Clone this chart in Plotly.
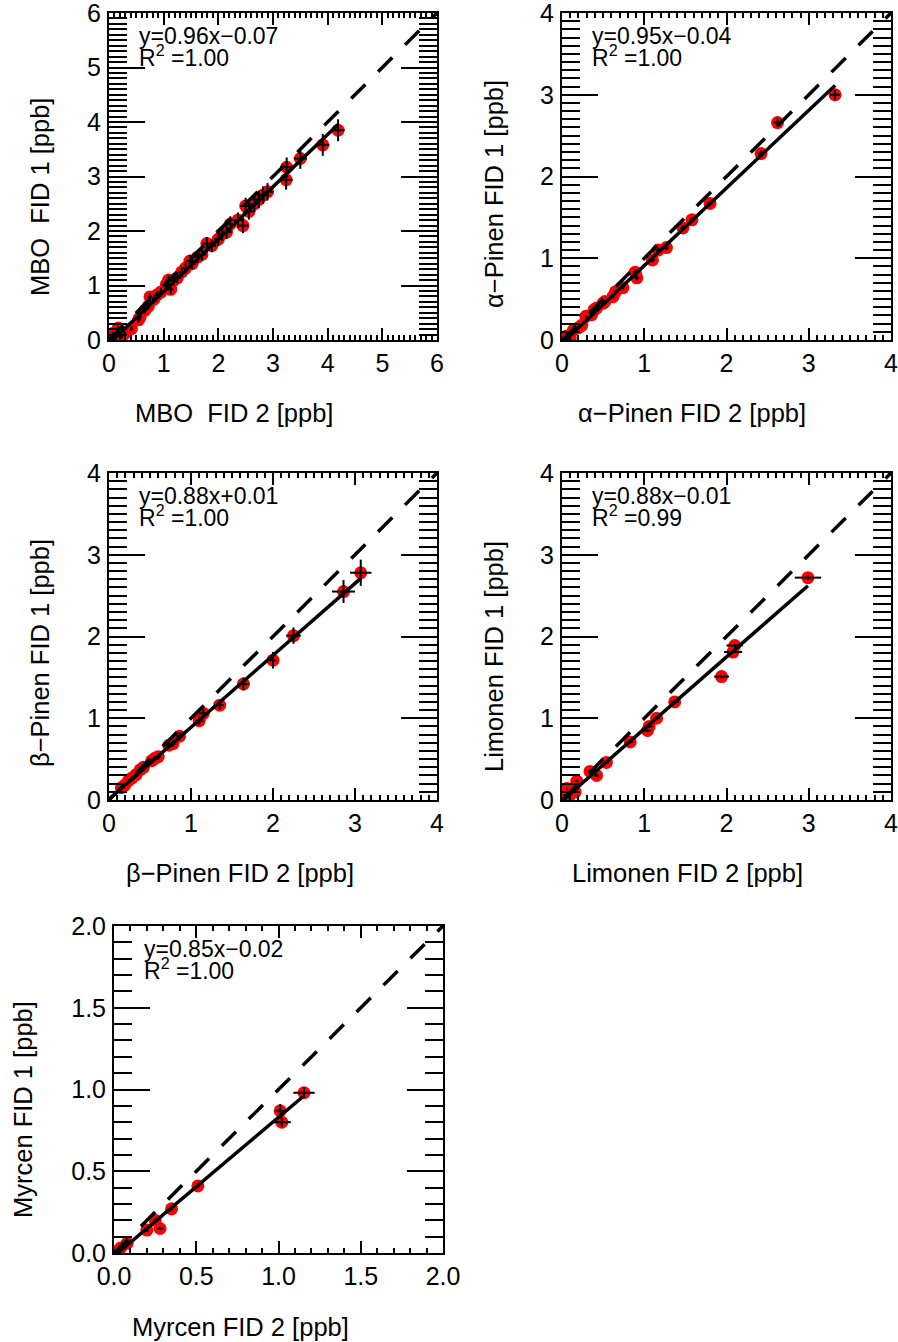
import plotly.graph_objects as go

W, H = 898, 1342

# ---------------- data ----------------
mbo_x = [0.03, 0.07, 0.17, 0.23, 0.29, 0.41, 0.54, 0.57, 0.66, 0.72, 0.75, 0.82, 0.88, 0.95, 1.05,
         1.09, 1.13, 1.18, 1.25, 1.33, 1.40, 1.48, 1.52, 1.62, 1.70, 1.79, 1.88, 2.00, 2.07, 2.15,
         2.22, 2.36, 2.45, 2.50, 2.56, 2.66, 2.74, 2.82, 2.90, 3.24, 3.25, 3.50, 3.91, 4.19]
mbo_y = [0.02, 0.12, 0.22, 0.06, 0.12, 0.21, 0.37, 0.42, 0.55, 0.62, 0.79, 0.75, 0.83, 0.88, 1.02,
         1.10, 0.93, 1.09, 1.14, 1.25, 1.32, 1.45, 1.40, 1.52, 1.57, 1.77, 1.73, 1.85, 1.95, 1.98,
         2.13, 2.20, 2.10, 2.46, 2.36, 2.50, 2.58, 2.66, 2.72, 2.94, 3.17, 3.33, 3.58, 3.85]
mbo_ex = [0.02, 0.02, 0.02, 0.02, 0.02, 0.03, 0.03, 0.03, 0.04, 0.04, 0.04, 0.04, 0.05, 0.05, 0.05,
          0.05, 0.05, 0.06, 0.06, 0.06, 0.06, 0.07, 0.07, 0.07, 0.08, 0.08, 0.08, 0.08, 0.09, 0.09,
          0.09, 0.10, 0.10, 0.10, 0.10, 0.10, 0.11, 0.11, 0.11, 0.12, 0.12, 0.12, 0.12, 0.12]
mbo_ey = [0.02, 0.03, 0.03, 0.03, 0.03, 0.04, 0.05, 0.05, 0.06, 0.06, 0.07, 0.07, 0.07, 0.08, 0.08,
          0.09, 0.09, 0.09, 0.10, 0.10, 0.10, 0.11, 0.11, 0.11, 0.12, 0.12, 0.12, 0.13, 0.13, 0.13,
          0.14, 0.14, 0.14, 0.15, 0.15, 0.15, 0.16, 0.16, 0.16, 0.18, 0.18, 0.19, 0.20, 0.20]

apin_x = [0.06, 0.10, 0.14, 0.20, 0.24, 0.29, 0.36, 0.39, 0.42, 0.50, 0.52, 0.62, 0.65, 0.74,
          0.89, 0.91, 1.10, 1.17, 1.27, 1.47, 1.58, 1.80, 2.42, 2.62, 3.32]
apin_y = [0.05, 0.02, 0.12, 0.15, 0.18, 0.29, 0.31, 0.37, 0.39, 0.45, 0.47, 0.53, 0.59, 0.64,
          0.83, 0.76, 0.98, 1.10, 1.13, 1.37, 1.47, 1.67, 2.28, 2.66, 3.00]
apin_ex = [0.01, 0.01, 0.01, 0.01, 0.01, 0.01, 0.02, 0.02, 0.02, 0.02, 0.02, 0.02, 0.02, 0.02,
           0.03, 0.03, 0.03, 0.03, 0.03, 0.03, 0.03, 0.03, 0.04, 0.05, 0.06]
apin_ey = [0.01, 0.01, 0.01, 0.01, 0.01, 0.01, 0.02, 0.02, 0.02, 0.02, 0.02, 0.02, 0.02, 0.02,
           0.03, 0.03, 0.03, 0.03, 0.03, 0.03, 0.03, 0.03, 0.04, 0.05, 0.06]

bpin_x = [0.15, 0.19, 0.24, 0.28, 0.33, 0.38, 0.42, 0.52, 0.56, 0.60, 0.73, 0.78, 0.86,
          1.10, 1.15, 1.35, 1.64, 2.00, 2.25, 2.86, 3.07]
bpin_y = [0.15, 0.18, 0.24, 0.27, 0.31, 0.37, 0.40, 0.48, 0.51, 0.53, 0.67, 0.69, 0.78,
          0.97, 1.06, 1.16, 1.42, 1.71, 2.01, 2.55, 2.78]
bpin_ex = [0.02, 0.02, 0.02, 0.02, 0.02, 0.02, 0.03, 0.03, 0.03, 0.03, 0.04, 0.04, 0.04,
           0.05, 0.05, 0.05, 0.07, 0.04, 0.09, 0.14, 0.13]
bpin_ey = [0.02, 0.02, 0.02, 0.02, 0.03, 0.03, 0.03, 0.03, 0.03, 0.04, 0.04, 0.04, 0.05,
           0.05, 0.06, 0.06, 0.08, 0.10, 0.10, 0.14, 0.16]

lim_x = [0.03, 0.06, 0.08, 0.16, 0.18, 0.34, 0.42, 0.54, 0.83, 1.04, 1.06, 1.15, 1.37,
         1.94, 2.08, 2.10, 2.99]
lim_y = [0.06, 0.14, 0.03, 0.10, 0.23, 0.35, 0.30, 0.46, 0.71, 0.85, 0.90, 1.00, 1.20,
         1.51, 1.81, 1.89, 2.72]
lim_ex = [0.01, 0.01, 0.01, 0.02, 0.02, 0.03, 0.03, 0.03, 0.03, 0.04, 0.04, 0.04, 0.05,
          0.09, 0.11, 0.10, 0.16]
lim_ey = [0.01, 0.01, 0.01, 0.01, 0.01, 0.02, 0.02, 0.02, 0.02, 0.02, 0.02, 0.02, 0.02,
          0.02, 0.02, 0.02, 0.03]

myr_x = [0.02, 0.04, 0.08, 0.20, 0.25, 0.28, 0.35, 0.51, 1.01, 1.02, 1.155]
myr_y = [0.01, 0.03, 0.06, 0.14, 0.20, 0.15, 0.27, 0.41, 0.87, 0.80, 0.98]
myr_ex = [0.005, 0.005, 0.01, 0.01, 0.01, 0.02, 0.01, 0.01, 0.03, 0.055, 0.065]
myr_ey = [0.005, 0.005, 0.01, 0.01, 0.01, 0.01, 0.01, 0.01, 0.04, 0.03, 0.03]

names = ["MBO\u00a0 FID", "α−Pinen FID", "β−Pinen FID", "Limonen FID", "Myrcen FID"]
fit_slope = [0.96, 0.95, 0.88, 0.88, 0.85]
fit_icept = [-0.07, -0.04, 0.01, -0.01, -0.02]
fit_text = ["y=0.96x−0.07", "y=0.95x−0.04", "y=0.88x+0.01", "y=0.88x−0.01", "y=0.85x−0.02"]
r2_text = ["1.00", "1.00", "1.00", "0.99", "1.00"]
axis_max = [6, 4, 4, 4, 2]
major_dtick = [1, 1, 1, 1, 0.5]

xs = [mbo_x, apin_x, bpin_x, lim_x, myr_x]
ys = [mbo_y, apin_y, bpin_y, lim_y, myr_y]
exs = [mbo_ex, apin_ex, bpin_ex, lim_ex, myr_ex]
eys = [mbo_ey, apin_ey, bpin_ey, lim_ey, myr_ey]

# ---------------- layout geometry (pixels) ----------------
boxes = [(109, 437, 13, 340), (562, 891, 13, 340),
         (109, 437, 473, 800), (562, 891, 473, 800),
         (114, 443, 926, 1253)]
xtitle_pos = [(234, 413), (692, 413), (240, 873), (687, 873), (240, 1327)]
ytitle_pos = [(40, 197), (494, 194), (40, 653), (494, 657), (23, 1110)]

FONT = "Liberation Sans, Arial, Helvetica, sans-serif"
fig = go.Figure()
annotations = []
layout = {}

for i in range(5):
    n = "" if i == 0 else str(i + 1)
    xa, ya = "x" + n, "y" + n
    L, R, T, B = boxes[i]
    x, y = xs[i], ys[i]

    fig.add_trace(go.Scatter(x=x, y=y, mode="markers", xaxis=xa, yaxis=ya,
                             marker=dict(color="#ff0000", size=13, line=dict(width=0)),
                             showlegend=False, hoverinfo="x+y"))
    fig.add_trace(go.Scatter(x=x, y=y, mode="markers", xaxis=xa, yaxis=ya,
                             marker=dict(color="rgba(0,0,0,0)", size=1),
                             error_x=dict(type="data", array=exs[i], color="black", thickness=2, width=0),
                             error_y=dict(type="data", array=eys[i], color="black", thickness=2, width=0),
                             showlegend=False, hoverinfo="skip"))
    fx = [0, max(x)]
    fy = [fit_slope[i] * v + fit_icept[i] for v in fx]
    fig.add_trace(go.Scatter(x=fx, y=fy, mode="lines", xaxis=xa, yaxis=ya,
                             line=dict(color="black", width=3.5),
                             showlegend=False, hoverinfo="skip"))
    fig.add_trace(go.Scatter(x=[0, axis_max[i]], y=[0, axis_max[i]], mode="lines", xaxis=xa, yaxis=ya,
                             line=dict(color="black", width=3.5, dash="20px,18px"),
                             showlegend=False, hoverinfo="skip"))

    fmt = ".1f" if axis_max[i] == 2 else "d"
    common = dict(range=[0, axis_max[i]], dtick=major_dtick[i], tick0=0, tickformat=fmt,
                  ticks="inside", showline=True, linecolor="black", linewidth=2,
                  mirror="allticks", showgrid=False, zeroline=False, tickcolor="black",
                  tickwidth=1.7, tickfont=dict(family=FONT, size=25, color="black"),
                  fixedrange=True, automargin=False, ticklabeloverflow="allow")
    layout["xaxis" + n] = dict(common, domain=[L / W, R / W], anchor=ya, ticklen=12,
                               minor=dict(dtick=0.1, tick0=0, ticks="inside", ticklen=5,
                                          tickcolor="black", tickwidth=1.5),
                               ticklabelstandoff=0)
    layout["yaxis" + n] = dict(common, domain=[1 - B / H, 1 - T / H], anchor=xa, ticklen=36,
                               minor=dict(dtick=0.1, tick0=0, ticks="inside", ticklen=18,
                                          tickcolor="black", tickwidth=1.5),
                               ticklabelstandoff=1)

    tx, ty = xtitle_pos[i]
    annotations.append(dict(text=names[i] + " 2 [ppb]", x=tx / W, y=1 - ty / H, xref="paper", yref="paper",
                            xanchor="center", yanchor="middle", showarrow=False,
                            font=dict(family=FONT, size=25.5, color="black")))
    tx, ty = ytitle_pos[i]
    annotations.append(dict(text=names[i] + " 1 [ppb]", x=tx / W, y=1 - ty / H, xref="paper", yref="paper",
                            xanchor="center", yanchor="middle", showarrow=False, textangle=-90,
                            font=dict(family=FONT, size=25.5, color="black")))
    annotations.append(dict(text=fit_text[i], x=(L + 28) / W, y=1 - (T + 23) / H, xref="paper", yref="paper",
                            xanchor="left", yanchor="middle", showarrow=False,
                            font=dict(family=FONT, size=23, color="black")))
    annotations.append(dict(text="R<sup>2</sup> =" + r2_text[i], x=(L + 28) / W, y=1 - (T + 43) / H,
                            xref="paper", yref="paper",
                            xanchor="left", yanchor="middle", showarrow=False,
                            font=dict(family=FONT, size=23, color="black")))

fig.update_layout(width=W, height=H, margin=dict(l=0, r=0, t=0, b=0, autoexpand=False),
                  paper_bgcolor="white", plot_bgcolor="white", showlegend=False,
                  annotations=annotations, **layout)

fig.write_html("out.html", config={"displayModeBar": False, "staticPlot": False},
               post_script="document.body.style.margin='0px';document.body.style.overflow='hidden';")
